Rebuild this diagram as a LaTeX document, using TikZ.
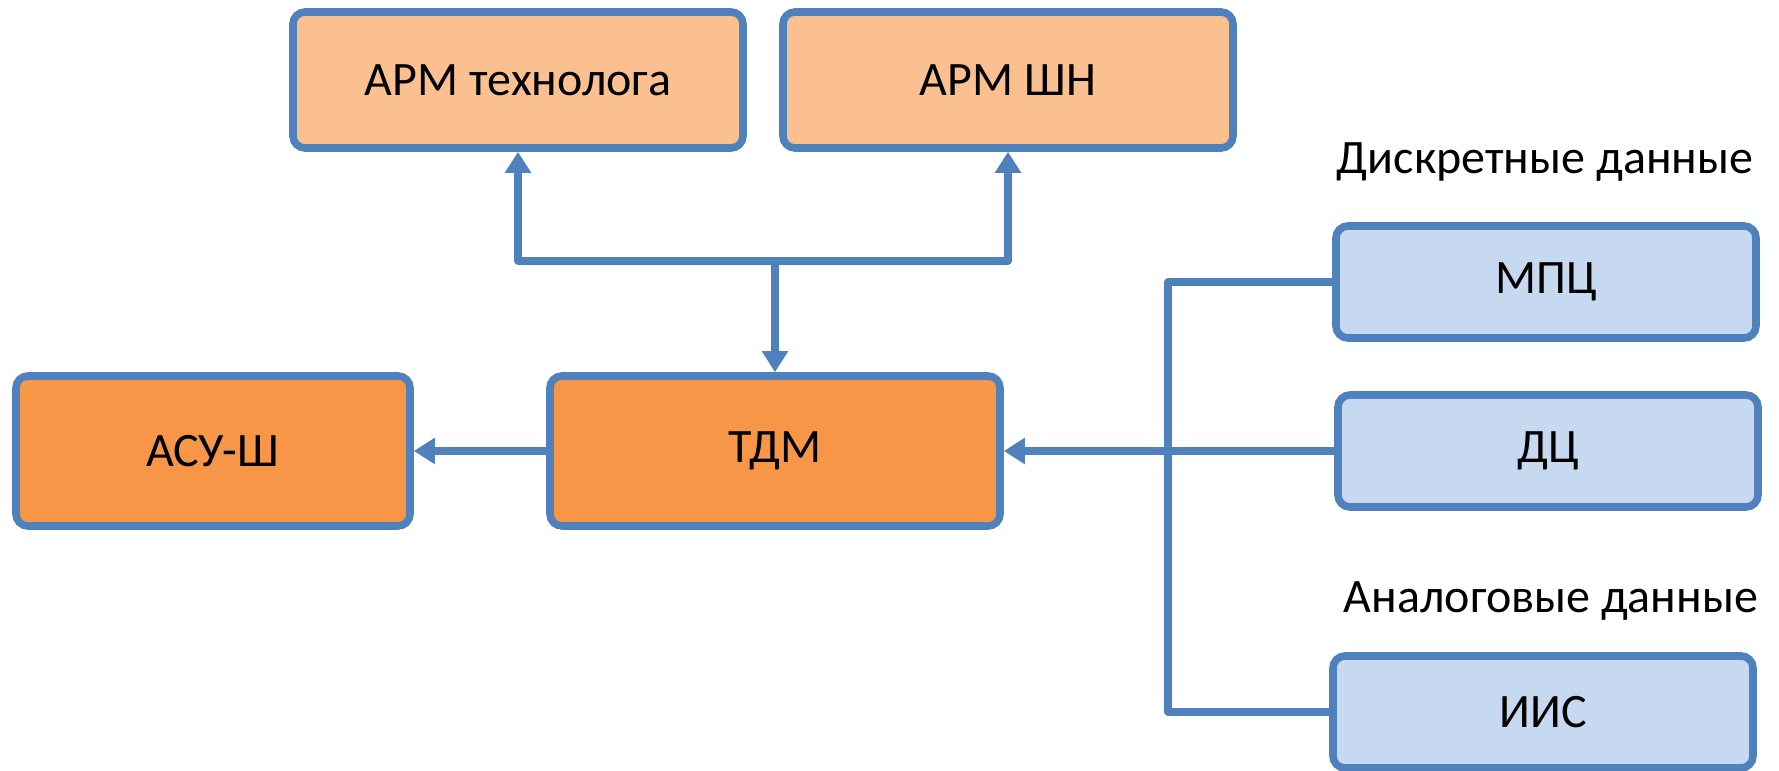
\documentclass[tikz,border=0pt]{standalone}
\usepackage{fontspec}
\setmainfont{Carlito}
\usetikzlibrary{arrows.meta}

\definecolor{edgeblue}{HTML}{4F81BD}
\definecolor{lightorange}{HTML}{FAC090}
\definecolor{midorange}{HTML}{F79646}
\definecolor{lightblue}{HTML}{C6D9F1}

\tikzset{
  box/.style={draw=edgeblue, line width=3.8pt, rounded corners=6pt,
    minimum width=225pt, minimum height=68pt, inner sep=0pt,
    font=\fontsize{24}{28}\selectfont, text=black},
  armbox/.style={box, fill=lightorange},
  corebox/.style={box, fill=midorange, minimum height=75pt},
  srcbox/.style={box, fill=lightblue, minimum width=210pt, minimum height=56pt},
  wire/.style={draw=edgeblue, line width=3.6pt, line join=round},
  flow/.style={wire, -{Triangle[length=10.5pt, width=12.5pt]}},
  caption/.style={font=\fontsize{24}{28}\selectfont, anchor=base, inner sep=0pt}
}

\begin{document}
\begin{tikzpicture}[x=0.5pt, y=-0.5pt]
  \useasboundingbox (0,0) rectangle (1779,771);

  % upper workstations
  \node[armbox] (arm1) at (518,80) {АРМ технолога};
  \node[armbox] (arm2) at (1008,80) {АРМ ШН};

  % central row
  \node[corebox, minimum width=197pt] (asu) at (213,451) {АСУ-Ш};
  \node[corebox] (tdm) at (775,451) {ТДМ};

  % data sources
  \node[srcbox] (mpc) at (1546,282) {МПЦ};
  \node[srcbox] (dc)  at (1548,451) {ДЦ};
  \node[srcbox] (iis) at (1543,712) {ИИС};

  \node[caption] (disc) at (1545,173) {Дискретные данные};
  \node[caption] (anal) at (1551,612) {Аналоговые данные};

  % distribution bus above the central block
  \coordinate (bus) at (775,261);
  \draw[flow] (bus) -- (tdm.north);
  \draw[flow] (bus) -| (arm1.south);
  \draw[flow] (bus) -| (arm2.south);

  % output to the monitoring system
  \draw[flow] (tdm.west) -- (asu.east);

  % collecting line from the sources
  \coordinate (jt) at (1168,282);
  \coordinate (jb) at (1168,712);
  \draw[wire] (mpc.west) -- (jt) -- (jb) -- (iis.west);
  \draw[flow] (dc.west) -- (tdm.east);
\end{tikzpicture}
\end{document}
